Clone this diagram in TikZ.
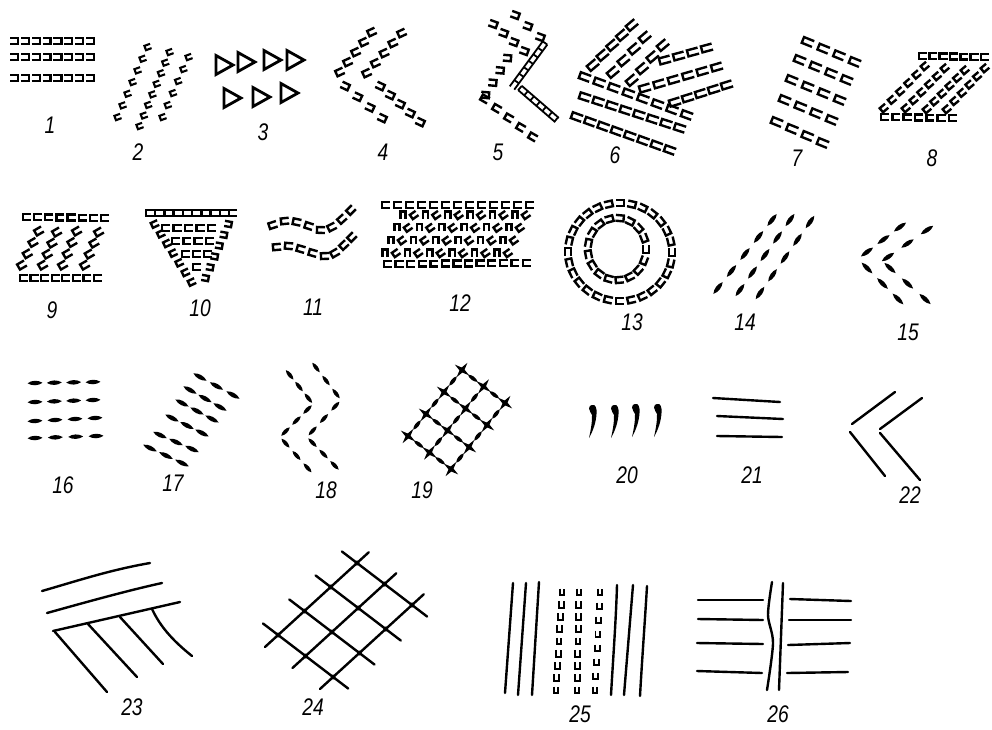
\documentclass[tikz,border=0pt]{standalone}
\usepackage{fontspec}
\setmainfont{Liberation Sans}
\tikzset{
  gl/.style={line width=2.4pt, line cap=butt, line join=miter},
  cg/.pic={\draw[gl] (4,-2.9) -- (-4,-2.9) -- (-4,2.9) -- (4,2.9);},
  cgs/.pic={\draw[gl] (3.5,-2.6) -- (-3.5,-2.6) -- (-3.5,2.6) -- (3.5,2.6);},
  cgt/.pic={\draw[line width=2.1pt] (3,-2.3) -- (-3,-2.3) -- (-3,2.3) -- (3,2.3);},
  cgl/.pic={\draw[gl] (5.5,-3.1) -- (-5.5,-3.1) -- (-5.5,3.1) -- (5.5,3.1);},
  ug/.pic={\draw[line width=1.9pt] (3.3,-2.4) -- (-3.3,-2.4) -- (-3.3,2.4) -- (3.3,2.4);},
  lens/.pic={\fill (-7.5,0) .. controls (-3,3) and (3,3) .. (7.5,0) .. controls (3,-3) and (-3,-3) .. (-7.5,0) -- cycle;},
  slens/.pic={\fill (-6,0) .. controls (-2.5,2.6) and (2.5,2.6) .. (6,0) .. controls (2.5,-2.6) and (-2.5,-2.6) .. (-6,0) -- cycle;},
  starp/.pic={\fill (9,0) -- (1.8,1.8) -- (0,9) -- (-1.8,1.8) -- (-9,0) -- (-1.8,-1.8) -- (0,-9) -- (1.8,-1.8) -- cycle;},
  tri/.pic={\draw[line width=2.8pt, line join=miter] (-8,-9.5) -- (9,0) -- (-8,9.5) -- cycle;},
  comma/.pic={\fill (0,0) .. controls (3.5,-1) and (5,3) .. (4.5,9) .. controls (4,17) and (1.5,25) .. (-3,33) .. controls (-1,24) and (0.3,16) .. (0,10) .. controls (-0.2,8) and (-3,7) .. (-3,3.5) .. controls (-3,1) and (-1.5,0.2) .. (0,0) -- cycle;},
  ln/.style={line width=2.4pt, line cap=round},
  chainl/.style={line width=1.8pt},
  lbl/.style={font=\fontsize{24}{24}\selectfont\itshape, inner sep=0pt},
}
% glyph row: x1 y1 x2 y2 n angle pic (endpoints inclusive)
\newcommand{\grw}[7]{%
  \pgfmathtruncatemacro{\gN}{#5-1}%
  \foreach \k in {0,...,\gN}{%
    \pgfmathsetmacro{\gT}{\k/\gN}%
    \pic[rotate=#6] at ({#1+(#3-#1)*\gT},{#2+(#4-#2)*\gT}) {#7};%
  }%
}
% dashes centred inside a segment
\newcommand{\dseg}[5]{%
  \pgfmathsetmacro{\gA}{atan2(-(#4-#2),#3-#1)}%
  \pgfmathtruncatemacro{\gN}{#5-1}%
  \foreach \k in {0,...,\gN}{%
    \pgfmathsetmacro{\gT}{(\k+0.5)/#5}%
    \pic[rotate=\gA] at ({#1+(#3-#1)*\gT},{#2+(#4-#2)*\gT}) {slens};%
  }%
}
% chain (ladder)
\newcommand{\chn}[4]{%
  \pgfmathsetmacro{\gA}{atan2(-(#4-#2),#3-#1)}%
  \pgfmathsetmacro{\gL}{veclen(#3-#1,#4-#2)}%
  \begin{scope}[shift={(#1,#2)},rotate=\gA]
    \draw[chainl] (0,-2.8) -- (\gL,-2.8) (0,2.8) -- (\gL,2.8);
    \foreach \q in {0,8,...,\gL} \draw[chainl] (\q,-2.8) -- (\q,2.8);
  \end{scope}%
}
\begin{document}
\begin{tikzpicture}[x=1pt,y=-1pt]
\useasboundingbox (0,0) rectangle (992,729);

% ---- 1
\grw{14}{41}{90}{41}{8}{180}{cg}
\grw{14}{57}{90}{57}{8}{180}{cg}
\grw{14}{78}{90}{78}{8}{180}{cg}
% ---- 2
\grw{118}{117}{148}{47}{7}{20}{cgt}
\grw{140}{126}{170}{52}{8}{20}{cgt}
\grw{163}{117}{189}{57}{6}{20}{cgt}
% ---- 3
\foreach \px/\py in {224/65,246/62,272/60,295/60,232/98,261/97,289/93}
  \pic at (\px,\py) {tri};
% ---- 4
\grw{340}{72}{372}{32}{5}{25}{cg}
\grw{367}{73}{402}{33}{5}{25}{cg}
\grw{345}{86}{382}{118}{4}{155}{cg}
\grw{380}{86}{420}{122}{5}{155}{cg}
% ---- 5
\grw{493}{24}{524}{51}{4}{160}{cg}
\grw{515}{15}{540}{37}{3}{160}{cg}
\chn{545}{43}{512}{88}
\grw{507}{58}{485}{95}{4}{175}{cg}
\chn{520}{88}{557}{120}
\grw{485}{99}{533}{137}{5}{-30}{cg}
% ---- 6
\grw{593}{65}{632}{25}{5}{40}{cgl}
\grw{613}{72}{645}{37}{4}{40}{cgl}
\grw{632}{80}{663}{45}{4}{40}{cgl}
\grw{665}{60}{707}{48}{4}{15}{cgl}
\grw{645}{88}{717}{67}{6}{16}{cgl}
\grw{675}{102}{727}{85}{5}{17}{cgl}
\grw{585}{77}{687}{115}{8}{-20}{cgl}
\grw{585}{97}{680}{128}{8}{-18}{cgl}
\grw{577}{117}{670}{150}{8}{-20}{cgl}
% ---- 7
\grw{808}{42}{855}{62}{4}{-22}{cgl}
\grw{800}{60}{847}{80}{4}{-22}{cgl}
\grw{792}{80}{840}{100}{4}{-22}{cgl}
\grw{785}{100}{832}{120}{4}{-22}{cgl}
\grw{777}{122}{823}{143}{4}{-22}{cgl}
% ---- 8
\grw{923}{56}{985}{57}{7}{0}{cg}
\grw{885}{117}{953}{118}{7}{0}{cg}
\grw{884}{108}{925}{66}{6}{40}{cgs}
\grw{906}{108}{945}{68}{6}{40}{cgs}
\grw{927}{109}{965}{70}{6}{40}{cgs}
\grw{947}{109}{985}{68}{6}{40}{cgs}
% ---- 9
\grw{27}{217}{105}{218}{8}{0}{cg}
\grw{24}{278}{98}{278}{8}{0}{cg}
\grw{22}{265}{39}{231}{4}{30}{cg}
\grw{43}{265}{57}{232}{4}{30}{cg}
\grw{63}{265}{77}{231}{4}{30}{cg}
\grw{85}{265}{99}{232}{4}{30}{cg}
% ---- 10
\grw{150}{213}{233}{213}{10}{0}{cg}
\grw{155}{224}{192}{282}{7}{25}{cgs}
\grw{228}{224}{205}{278}{6}{170}{cgs}
\grw{166}{228}{212}{228}{5}{0}{cg}
\grw{176}{241}{210}{241}{4}{0}{cg}
\grw{186}{254}{208}{254}{3}{0}{cg}
\pic at (197,267) {cg};
% ---- 11
\foreach \px/\py/\pa in {273/225/18,285/221/6,297/222/-12,309/226/-18,321/230/-2,332/227/27,342/219/42,351/210/45,
  277/247/5,289/246/-5,301/249/-16,313/253/-16,325/256/2,335/253/30,344/245/43,352/237/45}
  \pic[rotate=\pa] at (\px,\py) {cg};
% ---- 12
\grw{386}{205}{530}{205}{13}{0}{cg}
\grw{388}{264}{527}{263}{13}{0}{cg}
\foreach \m in {0,...,11}{%
  \pgfmathsetmacro{\bx}{385+11.2*\m}%
  \pgfmathtruncatemacro{\gP}{mod(\m,2)}%
  \ifnum\gP=0 \def\gR{-90}\else\def\gR{35}\fi
  \grw{\bx}{253}{\bx+18}{215}{4}{\gR}{cgs}
}
% ---- 13
\foreach \m in {0,...,27}{%
  \pgfmathsetmacro{\gth}{\m*360/28}%
  \pgfmathsetmacro{\grot}{\gth+90}%
  \pic[rotate=\grot] at ({620+52*cos(\gth)},{252-49*sin(\gth)}) {cg};
}
\foreach \m in {0,...,16}{%
  \pgfmathsetmacro{\gth}{\m*360/17}%
  \pgfmathsetmacro{\grot}{\gth+90}%
  \pic[rotate=\grot] at ({617+29*cos(\gth)},{249-31*sin(\gth)}) {cg};
}
% ---- 14
\grw{718}{288}{772}{220}{5}{52}{lens}
\grw{740}{290}{790}{220}{5}{54}{lens}
\grw{760}{293}{810}{222}{5}{55}{lens}
% ---- 15
\grw{867}{252}{900}{227}{3}{36}{lens}
\grw{888}{257}{927}{230}{3}{34}{lens}
\grw{867}{268}{898}{299}{3}{-45}{lens}
\grw{890}{268}{925}{299}{3}{-42}{lens}
% ---- 16
\grw{35}{383}{93}{382}{4}{2}{lens}
\grw{35}{402}{93}{400}{4}{2}{lens}
\grw{35}{421}{95}{418}{4}{3}{lens}
\grw{35}{438}{96}{436}{4}{2}{lens}
% ---- 17
\grw{200}{377}{233}{395}{3}{-29}{lens}
\grw{190}{390}{220}{407}{3}{-29}{lens}
\grw{182}{403}{212}{419}{3}{-28}{lens}
\grw{172}{418}{202}{433}{3}{-27}{lens}
\grw{160}{435}{192}{449}{3}{-25}{lens}
\grw{150}{448}{182}{463}{3}{-26}{lens}
% ---- 18
\dseg{285}{369}{313}{404}{3}
\dseg{313}{404}{280}{437}{3}
\dseg{280}{437}{313}{474}{3}
\dseg{311}{361}{341}{400}{3}
\dseg{341}{400}{307}{437}{3}
\dseg{307}{437}{340}{471}{3}
% ---- 19
\foreach \i in {0,...,3}{%
  \foreach \j in {0,...,2}{%
    \pgfmathsetmacro{\sx}{462+21.5*\j-18*\i}%
    \pgfmathsetmacro{\sy}{370+16.5*\j+22*\i}%
    \pic[rotate=-37] at (\sx,\sy) {starp};
    \ifnum\j<2 \pic[rotate=-37] at (\sx+10.75,\sy+8.25) {slens};\fi
    \ifnum\i<3 \pic[rotate=51] at (\sx-9,\sy+11) {slens};\fi
  }%
}
% ---- 20
\foreach \px/\py in {592/405,614/405,635/404,657/404}
  \pic at (\px,\py) {comma};
% ---- 21
\draw[ln] (713,398) -- (780,402);
\draw[ln] (717,416) -- (783,419);
\draw[ln] (717,436) -- (782,437);
% ---- 22
\draw[ln] (895,392) -- (852,424);
\draw[ln] (922,398) -- (880,429);
\draw[ln] (850,432) -- (885,476);
\draw[ln] (880,433) -- (920,480);
% ---- 23
\draw[ln] (42,591) .. controls (80,580) and (110,570) .. (150,563);
\draw[ln] (47,613) .. controls (90,601) and (130,590) .. (162,583);
\draw[ln] (53,631) -- (180,602);
\draw[ln] (55,632) -- (107,692);
\draw[ln] (88,624) -- (137,677);
\draw[ln] (120,617) -- (163,664);
\draw[ln] (152,609) .. controls (160,626) and (172,640) .. (192,656);
% ---- 24
\foreach \a in {0,...,3}{%
  \draw[ln] ({357-26.3*\a-27.5*0.55},{563+24*\a-21*0.55}) -- ({357-26.3*\a+27.5*2.55},{563+24*\a+21*2.55});
}
\foreach \b in {0,...,2}{%
  \draw[ln] ({357+27.5*\b+26.3*0.45},{563+21*\b-24*0.45}) -- ({357+27.5*\b-26.3*3.5},{563+21*\b+24*3.5});
}
\foreach \a in {0,...,3}{\foreach \b in {0,...,2}{%
  \fill ({357-26.3*\a+27.5*\b},{563+24*\a+21*\b}) circle (2.5);
}}
% ---- 25
\draw[ln] (513,583) -- (505,693);
\draw[ln] (526,583) -- (518,695);
\draw[ln] (539,582) -- (532,695);
\draw[ln] (617,585) .. controls (616,620) and (613,660) .. (611,695);
\draw[ln] (633,585) -- (624,695);
\draw[ln] (647,586) .. controls (645,620) and (642,660) .. (640,696);
\grw{562}{592}{556}{690}{9}{90}{ug}
\grw{579}{592}{577}{690}{9}{90}{ug}
\grw{600}{592}{595}{690}{8}{90}{ug}
% ---- 26
\draw[ln] plot[smooth] coordinates {(772,582) (768,615) (773,643) (767,690)};
\draw[ln] (783,583) -- (779,690);
\draw[ln] (698,600) -- (763,600);
\draw[ln] (698,619) -- (763,620);
\draw[ln] (697,643) -- (763,644);
\draw[ln] (697,671) -- (762,673);
\draw[ln] (790,599) -- (851,601);
\draw[ln] (789,620) -- (851,620);
\draw[ln] (788,645) -- (850,643);
\draw[ln] (787,673) -- (848,672);

% ---- labels
\foreach \n/\px/\py in {1/50/125,2/138/152,3/263/132,4/383/152,5/498/152,6/615/155,7/797/158,8/932/158,
  9/52/310,10/200/308,11/313/307,12/460/303,13/632/322,14/745/322,15/908/332,
  16/63/485,17/173/483,18/326/490,19/422/490,20/627/475,21/752/475,22/910/495,
  23/132/707,24/313/707,25/580/714,26/778/714}
  \node[lbl] (l\n) at (\px,\py) {\scalebox{0.8}[1]{\n}};
\end{tikzpicture}
\end{document}
